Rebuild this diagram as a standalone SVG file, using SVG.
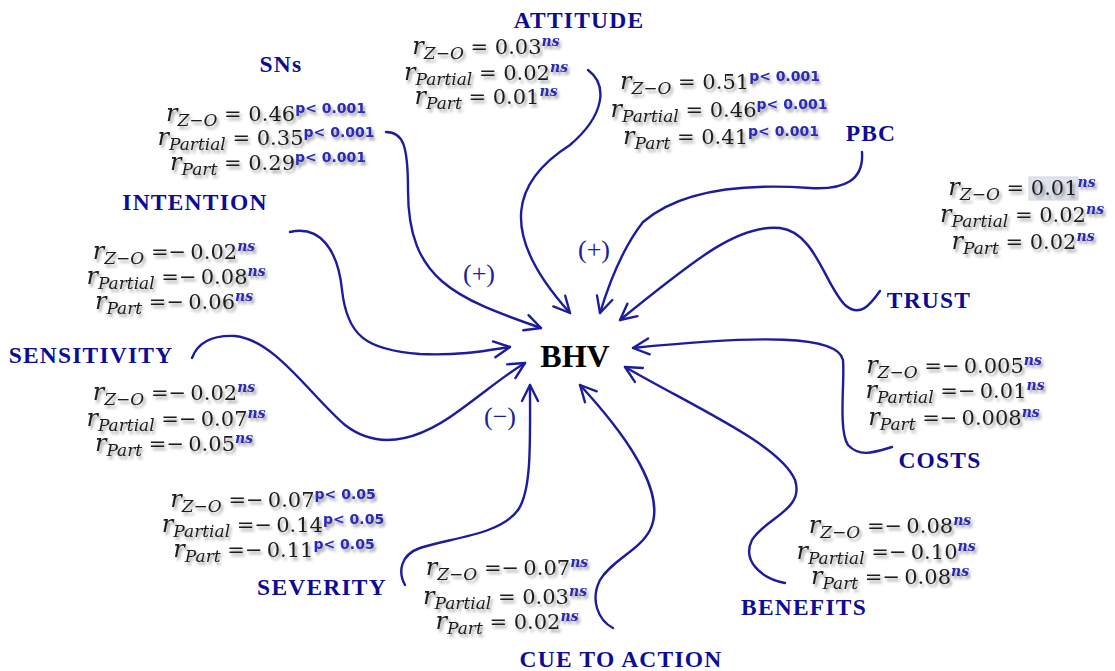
<svg xmlns="http://www.w3.org/2000/svg" width="1115" height="671" viewBox="0 0 1115 671">
<defs>
<filter id="sh" x="-10%" y="-30%" width="120%" height="170%">
<feDropShadow dx="2" dy="3" stdDeviation="1.8" flood-color="#000" flood-opacity="0.4"/>
</filter>
<marker id="ah" markerUnits="userSpaceOnUse" markerWidth="24" markerHeight="24" viewBox="-20 -12 24 24" refX="0" refY="0" orient="auto">
<path d="M-16,-8 L0,0 L-16,8" fill="none" stroke="#1c1c9e" stroke-width="2.4" stroke-linecap="round" stroke-linejoin="round"/>
</marker>
</defs>
<style>
.lbl{font-family:"Liberation Serif",serif;font-weight:bold;font-size:23.5px;letter-spacing:1.2px;fill:#0c0c96;text-anchor:middle}
.f{font-family:"DejaVu Serif",serif;font-size:21px;fill:#1e1e1e;text-anchor:middle;filter:url(#sh)}
.r{font-style:italic;font-size:24px}
.sb{font-style:italic;font-size:17px}
.ns{font-style:italic;font-weight:bold;font-size:14px;fill:#2a2ab5}
.p{font-family:"DejaVu Sans",sans-serif;font-weight:bold;font-size:14px;fill:#2a2ab5}
.sign{font-family:"Liberation Serif",serif;font-size:26px;fill:#1c1c9e;text-anchor:middle}
.c{fill:none;stroke:#1c1c9e;stroke-width:2.4;stroke-linecap:round;marker-end:url(#ah)}
</style>
<rect width="1115" height="671" fill="#fff"/>

<g id="connectors">
<path class="c" d="M386 132 C403 132,408 145,408 190 C408 280,455 298,541 328"/>
<path class="c" d="M588 70 C608 85,605 115,570 145 C515 180,495 230,570 313"/>
<path class="c" d="M862 152 C864 180,845 190,810 188 C740 183,680 190,643 222 C625 245,610 280,600 313"/>
<path class="c" d="M880 291 C870 305,860 318,845 305 C825 285,815 232,780 228 C740 224,700 255,620 320"/>
<path class="c" d="M892 447 C875 452,860 458,848 445 C838 430,845 380,843 360 C838 335,760 335,633 348"/>
<path class="c" d="M785 583 C760 578,742 560,752 540 C765 518,805 510,795 480 C780 445,700 410,625 367"/>
<path class="c" d="M613 628 C598 620,590 600,600 580 C612 560,640 550,650 530 C665 500,640 450,580 385"/>
<path class="c" d="M405 585 C398 572,400 555,420 548 C450 538,500 535,518 510 C532 490,530 440,530 385"/>
<path class="c" d="M192 358 C198 342,212 335,235 336 C275 340,310 395,345 425 C380 452,420 440,460 410 C490 388,505 375,525 363"/>
<path class="c" d="M290 232 C320 225,338 250,342 290 C347 335,365 350,420 354 C460 356,490 350,510 347"/>
</g>

<g id="signs">
<text class="sign" x="479" y="282">(+)</text>
<text class="sign" x="594" y="258">(+)</text>
<text class="sign" x="500" y="425">(−)</text>
</g>

<g id="n-bhv"><text x="575" y="367" font-family="Liberation Serif, serif" font-weight="bold" font-size="32" fill="#000" text-anchor="middle">BHV</text></g>
<g id="n-attitude"><text class="lbl" x="579" y="28">ATTITUDE</text></g>
<g id="n-sns"><text class="lbl" x="281" y="72">SNs</text></g>
<g id="n-pbc"><text class="lbl" x="871" y="141">PBC</text></g>
<g id="n-intention"><text class="lbl" x="195" y="210">INTENTION</text></g>
<g id="n-trust"><text class="lbl" x="929" y="308">TRUST</text></g>
<g id="n-sensitivity"><text class="lbl" x="91" y="363">SENSITIVITY</text></g>
<g id="n-costs"><text class="lbl" x="940" y="468">COSTS</text></g>
<g id="n-benefits"><text class="lbl" x="804" y="615">BENEFITS</text></g>
<g id="n-cue"><text class="lbl" x="621" y="667">CUE TO ACTION</text></g>
<g id="n-severity"><text class="lbl" x="322" y="595">SEVERITY</text></g>

<g id="stats-sns">
<text class="f" x="266" y="121"><tspan class="r">r</tspan><tspan class="sb" dy="5">Z−O</tspan><tspan dy="-5"> = 0.46</tspan><tspan class="p" dy="-8">p&lt; 0.001</tspan></text>
<text class="f" x="266" y="145"><tspan class="r">r</tspan><tspan class="sb" dy="5">Partial</tspan><tspan dy="-5"> = 0.35</tspan><tspan class="p" dy="-8">p&lt; 0.001</tspan></text>
<text class="f" x="268" y="170"><tspan class="r">r</tspan><tspan class="sb" dy="5">Part</tspan><tspan dy="-5"> = 0.29</tspan><tspan class="p" dy="-8">p&lt; 0.001</tspan></text>
</g>
<g id="stats-attitude">
<text class="f" x="486" y="54"><tspan class="r">r</tspan><tspan class="sb" dy="5">Z−O</tspan><tspan dy="-5"> = 0.03</tspan><tspan class="ns" dy="-8">ns</tspan></text>
<text class="f" x="486" y="80"><tspan class="r">r</tspan><tspan class="sb" dy="5">Partial</tspan><tspan dy="-5"> = 0.02</tspan><tspan class="ns" dy="-8">ns</tspan></text>
<text class="f" x="486" y="104"><tspan class="r">r</tspan><tspan class="sb" dy="5">Part</tspan><tspan dy="-5"> = 0.01</tspan><tspan class="ns" dy="-8">ns</tspan></text>
</g>
<g id="stats-pbc">
<text class="f" x="720" y="89"><tspan class="r">r</tspan><tspan class="sb" dy="5">Z−O</tspan><tspan dy="-5"> = 0.51</tspan><tspan class="p" dy="-8">p&lt; 0.001</tspan></text>
<text class="f" x="719" y="117"><tspan class="r">r</tspan><tspan class="sb" dy="5">Partial</tspan><tspan dy="-5"> = 0.46</tspan><tspan class="p" dy="-8">p&lt; 0.001</tspan></text>
<text class="f" x="721" y="144"><tspan class="r">r</tspan><tspan class="sb" dy="5">Part</tspan><tspan dy="-5"> = 0.41</tspan><tspan class="p" dy="-8">p&lt; 0.001</tspan></text>
</g>
<g id="stats-trust">
<rect x="1029" y="177" width="49" height="23" fill="#dfe3ee" stroke="#cfd5e3" stroke-width="1"/>
<text class="f" x="1022" y="195"><tspan class="r">r</tspan><tspan class="sb" dy="5">Z−O</tspan><tspan dy="-5"> = 0.01</tspan><tspan class="ns" dy="-8">ns</tspan></text>
<text class="f" x="1022" y="222"><tspan class="r">r</tspan><tspan class="sb" dy="5">Partial</tspan><tspan dy="-5"> = 0.02</tspan><tspan class="ns" dy="-8">ns</tspan></text>
<text class="f" x="1023" y="249"><tspan class="r">r</tspan><tspan class="sb" dy="5">Part</tspan><tspan dy="-5"> = 0.02</tspan><tspan class="ns" dy="-8">ns</tspan></text>
</g>
<g id="stats-intention">
<text class="f" x="174" y="259"><tspan class="r">r</tspan><tspan class="sb" dy="5">Z−O</tspan><tspan dy="-5"> =−&#8201;0.02</tspan><tspan class="ns" dy="-8">ns</tspan></text>
<text class="f" x="176" y="284"><tspan class="r">r</tspan><tspan class="sb" dy="5">Partial</tspan><tspan dy="-5"> =−&#8201;0.08</tspan><tspan class="ns" dy="-8">ns</tspan></text>
<text class="f" x="174" y="309"><tspan class="r">r</tspan><tspan class="sb" dy="5">Part</tspan><tspan dy="-5"> =−&#8201;0.06</tspan><tspan class="ns" dy="-8">ns</tspan></text>
</g>
<g id="stats-sensitivity">
<text class="f" x="174" y="400"><tspan class="r">r</tspan><tspan class="sb" dy="5">Z−O</tspan><tspan dy="-5"> =−&#8201;0.02</tspan><tspan class="ns" dy="-8">ns</tspan></text>
<text class="f" x="176" y="426"><tspan class="r">r</tspan><tspan class="sb" dy="5">Partial</tspan><tspan dy="-5"> =−&#8201;0.07</tspan><tspan class="ns" dy="-8">ns</tspan></text>
<text class="f" x="174" y="451"><tspan class="r">r</tspan><tspan class="sb" dy="5">Part</tspan><tspan dy="-5"> =−&#8201;0.05</tspan><tspan class="ns" dy="-8">ns</tspan></text>
</g>
<g id="stats-costs">
<text class="f" x="954" y="373"><tspan class="r">r</tspan><tspan class="sb" dy="5">Z−O</tspan><tspan dy="-5"> =−&#8201;0.005</tspan><tspan class="ns" dy="-8">ns</tspan></text>
<text class="f" x="955" y="398"><tspan class="r">r</tspan><tspan class="sb" dy="5">Partial</tspan><tspan dy="-5"> =−&#8201;0.01</tspan><tspan class="ns" dy="-8">ns</tspan></text>
<text class="f" x="954" y="425"><tspan class="r">r</tspan><tspan class="sb" dy="5">Part</tspan><tspan dy="-5"> =−&#8201;0.008</tspan><tspan class="ns" dy="-8">ns</tspan></text>
</g>
<g id="stats-severity">
<text class="f" x="273" y="507"><tspan class="r">r</tspan><tspan class="sb" dy="5">Z−O</tspan><tspan dy="-5"> =−&#8201;0.07</tspan><tspan class="p" dy="-8">p&lt; 0.05</tspan></text>
<text class="f" x="273" y="532"><tspan class="r">r</tspan><tspan class="sb" dy="5">Partial</tspan><tspan dy="-5"> =−&#8201;0.14</tspan><tspan class="p" dy="-8">p&lt; 0.05</tspan></text>
<text class="f" x="274" y="557"><tspan class="r">r</tspan><tspan class="sb" dy="5">Part</tspan><tspan dy="-5"> =−&#8201;0.11</tspan><tspan class="p" dy="-8">p&lt; 0.05</tspan></text>
</g>
<g id="stats-cue">
<text class="f" x="507" y="575"><tspan class="r">r</tspan><tspan class="sb" dy="5">Z−O</tspan><tspan dy="-5"> =−&#8201;0.07</tspan><tspan class="ns" dy="-8">ns</tspan></text>
<text class="f" x="505" y="604"><tspan class="r">r</tspan><tspan class="sb" dy="5">Partial</tspan><tspan dy="-5"> = 0.03</tspan><tspan class="ns" dy="-8">ns</tspan></text>
<text class="f" x="507" y="629"><tspan class="r">r</tspan><tspan class="sb" dy="5">Part</tspan><tspan dy="-5"> = 0.02</tspan><tspan class="ns" dy="-8">ns</tspan></text>
</g>
<g id="stats-benefits">
<text class="f" x="890" y="533"><tspan class="r">r</tspan><tspan class="sb" dy="5">Z−O</tspan><tspan dy="-5"> =−&#8201;0.08</tspan><tspan class="ns" dy="-8">ns</tspan></text>
<text class="f" x="886" y="559"><tspan class="r">r</tspan><tspan class="sb" dy="5">Partial</tspan><tspan dy="-5"> =−&#8201;0.10</tspan><tspan class="ns" dy="-8">ns</tspan></text>
<text class="f" x="890" y="584"><tspan class="r">r</tspan><tspan class="sb" dy="5">Part</tspan><tspan dy="-5"> =−&#8201;0.08</tspan><tspan class="ns" dy="-8">ns</tspan></text>
</g>
</svg>
